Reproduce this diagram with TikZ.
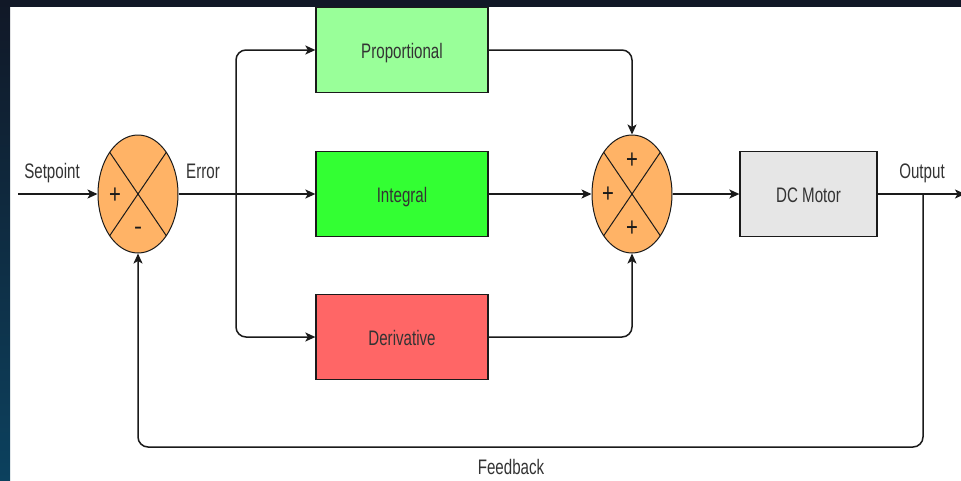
\documentclass[tikz,border=0pt]{standalone}
\usepackage{fontspec}
\usepackage{graphicx}
\setmainfont{Liberation Sans}
\usetikzlibrary{arrows.meta,shapes.geometric}
\definecolor{framedark}{HTML}{111827}
\definecolor{frameblue}{HTML}{0C415E}
\definecolor{txt}{HTML}{333333}
\definecolor{ln}{HTML}{1A1A1A}
\definecolor{pgreen}{HTML}{99FF99}
\definecolor{igreen}{HTML}{33FF33}
\definecolor{dred}{HTML}{FF6666}
\definecolor{sumor}{HTML}{FFB366}
\definecolor{motgray}{HTML}{E6E6E6}
\newcommand{\lbl}[1]{\scalebox{0.72}[1]{\fontsize{21}{21}\selectfont #1}}
\newcommand{\sgnplus}{\scalebox{0.75}[1]{\fontsize{27}{27}\selectfont +}}
\tikzset{
  blk/.style={draw=ln, line width=1.3pt, minimum width=172pt, minimum height=85pt, inner sep=0pt, text=txt, text height=17pt, text depth=0pt},
  sumj/.style={ellipse, draw=ln, line width=1pt, fill=sumor, minimum width=80pt, minimum height=118pt, inner sep=0pt},
  arr/.style={draw=ln, line width=1.5pt, -{Stealth[length=10pt,width=9pt,inset=2.5pt]}},
  txtlbl/.style={text=txt, inner sep=0pt, text height=16pt, text depth=0pt},
  sgn/.style={text=ln, inner sep=0pt, font=\fontsize{24}{24}\selectfont},
  xline/.style={draw=ln, line width=1pt}
}
\begin{document}
\begin{tikzpicture}[x=1pt,y=-1pt]
\useasboundingbox (0,0) rectangle (961,480);
\fill[white] (0,0) rectangle (961,480);
\shade[top color=framedark, bottom color=frameblue] (0,0) rectangle (10,480);
\fill[framedark] (0,0) rectangle (961,7);

% blocks
\node[blk, fill=pgreen] (prop) at (402,50) {\lbl{Proportional}};
\node[blk, fill=igreen] (integ) at (402,194) {\lbl{Integral}};
\node[blk, fill=dred] (der) at (402,337) {\lbl{Derivative}};
\node[blk, fill=motgray, minimum width=137pt] (mot) at (808.5,194) {\lbl{DC Motor}};

% summing junctions
\node[sumj] (s1) at (138,194) {};
\node[sumj] (s2) at (632,194) {};
\draw[xline] (s1.center) ++(-28.3,-41.7) -- ++(56.6,83.4);
\draw[xline] (s1.center) ++(28.3,-41.7) -- ++(-56.6,83.4);
\draw[xline] (s2.center) ++(-28.3,-41.7) -- ++(56.6,83.4);
\draw[xline] (s2.center) ++(28.3,-41.7) -- ++(-56.6,83.4);
\node[sgn] (p1) at (115,196) {\sgnplus};
\node[sgn] (m1) at (138,231) {-};
\node[sgn] (p2a) at (632,161) {\sgnplus};
\node[sgn] (p2b) at (608,195) {\sgnplus};
\node[sgn] (p2c) at (632,229) {\sgnplus};

% coordinates
\coordinate (sp) at (18,194);
\coordinate (br) at (236,194);
\coordinate (fb) at (923,194);
\coordinate (fbc) at (923,447);
\coordinate (outend) at (965,194);

% labels
\node[txtlbl] (lsp) at (52,170) {\lbl{Setpoint}};
\node[txtlbl] (lerr) at (203,170) {\lbl{Error}};
\node[txtlbl] (lout) at (922,170) {\lbl{Output}};
\node[txtlbl] (lfb) at (511,466) {\lbl{Feedback}};

% connectors
\draw[arr] (sp) -- (s1.west);
\draw[arr] (s1.east) -- (integ.west);
\draw[arr, rounded corners=10pt] (br) |- (prop.west);
\draw[arr, rounded corners=10pt] (br) |- (der.west);
\draw[arr, rounded corners=10pt] (prop.east) -| (s2.north);
\draw[arr] (integ.east) -- (s2.west);
\draw[arr, rounded corners=10pt] (der.east) -| (s2.south);
\draw[arr] (s2.east) -- (mot.west);
\draw[arr] (mot.east) -- (outend);
\draw[arr, rounded corners=10pt] (fb) -- (fbc) -| (s1.south);
\end{tikzpicture}
\end{document}
